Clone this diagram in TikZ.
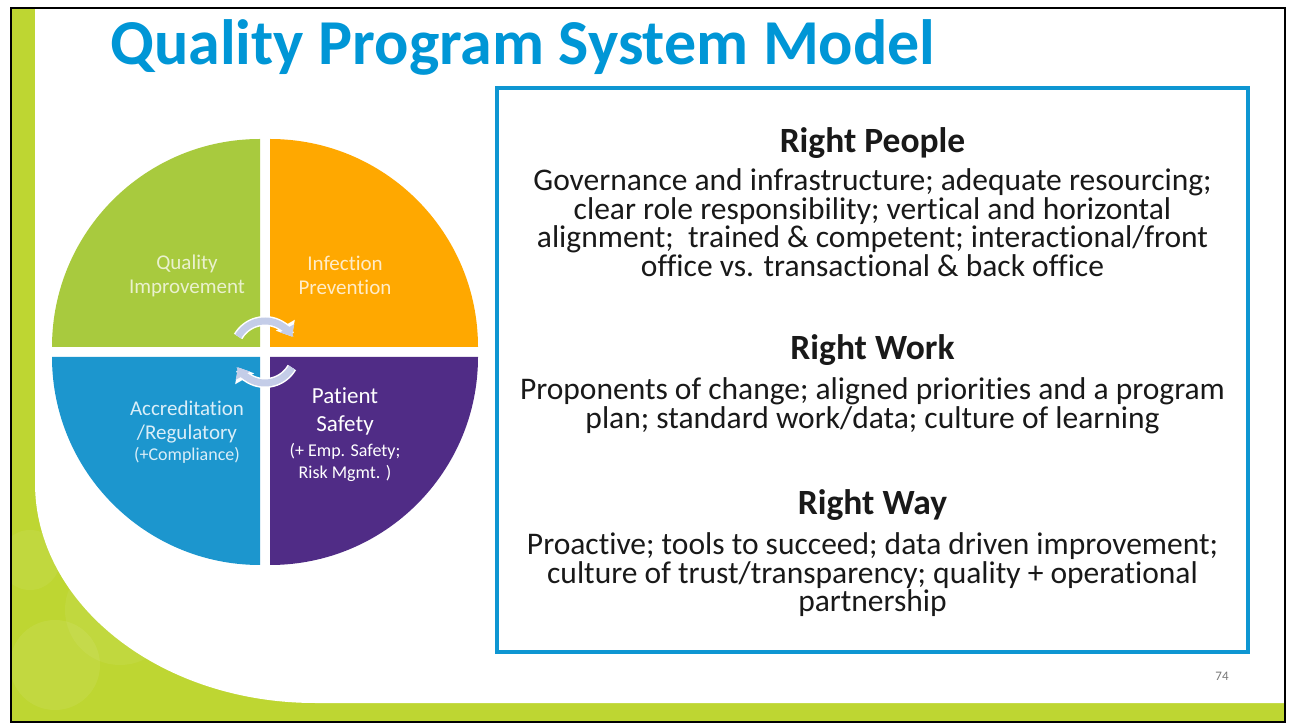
\documentclass[tikz,border=0pt]{standalone}
\usepackage{fontspec}
\setmainfont{Carlito}[Ligatures={NoCommon,NoContextual}]
\usetikzlibrary{calc,arrows.meta,positioning}

\definecolor{titleblue}{RGB}{0,150,214}
\definecolor{boxblue}{RGB}{14,150,210}
\definecolor{slidegreen}{RGB}{190,214,50}
\definecolor{qgreen}{RGB}{168,202,62}
\definecolor{qorange}{RGB}{255,168,0}
\definecolor{qblue}{RGB}{28,150,206}
\definecolor{qpurple}{RGB}{80,44,134}
\definecolor{cyclegray}{RGB}{196,205,232}
\definecolor{bodytext}{RGB}{25,25,25}

\newcommand\tightlines{\lineskiplimit=-30pt\relax}

\begin{document}
\begin{tikzpicture}[x=1pt,y=1pt]

\tikzstyle{qtext}=[text centered, align=center, inner sep=0pt, font=\fontsize{21}{24}\selectfont\tightlines]
\tikzstyle{head}=[anchor=base, text=bodytext, font=\bfseries\fontsize{35.5}{40}\selectfont]
\tikzstyle{body}=[anchor=north, align=center, inner sep=0pt, text=bodytext, font=\fontsize{31.5}{28.5}\selectfont\tightlines]
\tikzstyle{cycleback}=[white, line width=10pt, -{Triangle[width=21pt,length=13pt]}]
\tikzstyle{cyclefront}=[cyclegray, line width=7pt, -{Triangle[width=16pt,length=9.5pt]}]

\useasboundingbox (0,0) rectangle (1289,725);

% slide background
\fill[slidegreen] (11,3) rectangle (1285,717);
\fill[white, opacity=0.07] (55,60) circle (45);
\fill[white, opacity=0.06] (120,115) circle (55);
\fill[white, opacity=0.06] (30,165) circle (30);
\fill[white] (35,717) -- (35,242) arc[start angle=180, end angle=270, x radius=280, y radius=220] -- (1285,22) -- (1285,717) -- cycle;
\draw[line width=1.5pt] (11,3) rectangle (1285,717);

% title
\node(T1)[anchor=base west, inner sep=0pt, text=titleblue, font=\bfseries\fontsize{64}{70}\selectfont] at (110,660) {Quality Program System Model};

% pie
\coordinate (C) at (265,373);
\fill[qgreen]  ($(C)+(-5,5)$)  -- ++(-208,0) arc[start angle=180, end angle=90, radius=208] -- cycle;
\fill[qorange] ($(C)+(5,5)$)   -- ++(208,0)  arc[start angle=0, end angle=90, radius=208] -- cycle;
\fill[qblue]   ($(C)+(-5,-5)$) -- ++(-208,0) arc[start angle=180, end angle=270, radius=208] -- cycle;
\fill[qpurple] ($(C)+(5,-5)$)  -- ++(208,0)  arc[start angle=0, end angle=-90, radius=208] -- cycle;

% cycle arrows
\draw[style=cycleback]  ($(C)+(150:31)$) arc[start angle=150, end angle=30, radius=31];
\draw[style=cyclefront] ($(C)+(150:31)$) arc[start angle=150, end angle=30, radius=31];
\draw[style=cycleback]  ($(C)+(-30:31)$) arc[start angle=-30, end angle=-150, radius=31];
\draw[style=cyclefront] ($(C)+(-30:31)$) arc[start angle=-30, end angle=-150, radius=31];

\node(P1)[style=qtext, text={rgb,255:red,234;green,241;blue,206}] at (187,449) {Quality\\Improvement};
\node(P2)[style=qtext, text={rgb,255:red,255;green,236;blue,200}] at (345,450) {Infection\\Prevention};
\node(P3)[style=qtext, text={rgb,255:red,218;green,238;blue,248}] at (187,293) {Accreditation\\/Regulatory\\[-3pt]{\fontsize{18}{20}\selectfont(+Compliance)}};
\node(P4)[style=qtext, text=white, font=\fontsize{23}{28}\selectfont\tightlines] at (345,290) {Patient\\Safety\\[-3pt]{\fontsize{18}{20}\selectfont(+ Emp. Safety;}\\[-6pt]{\fontsize{18}{20}\selectfont Risk Mgmt. )}};

% right box
\node(B1)[draw=boxblue, line width=4.5pt, minimum width=751pt, minimum height=564pt, inner sep=0pt] at (872.5,355) {};

\node(B1t)[style=head] at ($(B1.north)-(0,67)$) {Right People};
\node(B11)[style=body] at ($(B1.north)-(0,83)$) {Governance and infrastructure; adequate resourcing;\\clear role responsibility; vertical and horizontal\\alignment;~ trained \& competent; interactional/front\\office vs. transactional \& back office};

\node(B2t)[style=head] at ($(B1.north)-(0,274)$) {Right Work};
\node(B21)[style=body] at ($(B1.north)-(0,292)$) {Proponents of change; aligned priorities and a program\\plan; standard work/data; culture of learning};

\node(B3t)[style=head] at ($(B1.north)-(0,429)$) {Right Way};
\node(B31)[style=body] at ($(B1.north)-(0,447)$) {Proactive; tools to succeed; data driven improvement;\\culture of trust/transparency; quality + operational\\partnership};

% page number
\node(N1)[text={rgb,255:red,120;green,120;blue,120}, font=\fontsize{13}{15}\selectfont] at (1222,49) {74};

\end{tikzpicture}
\end{document}
